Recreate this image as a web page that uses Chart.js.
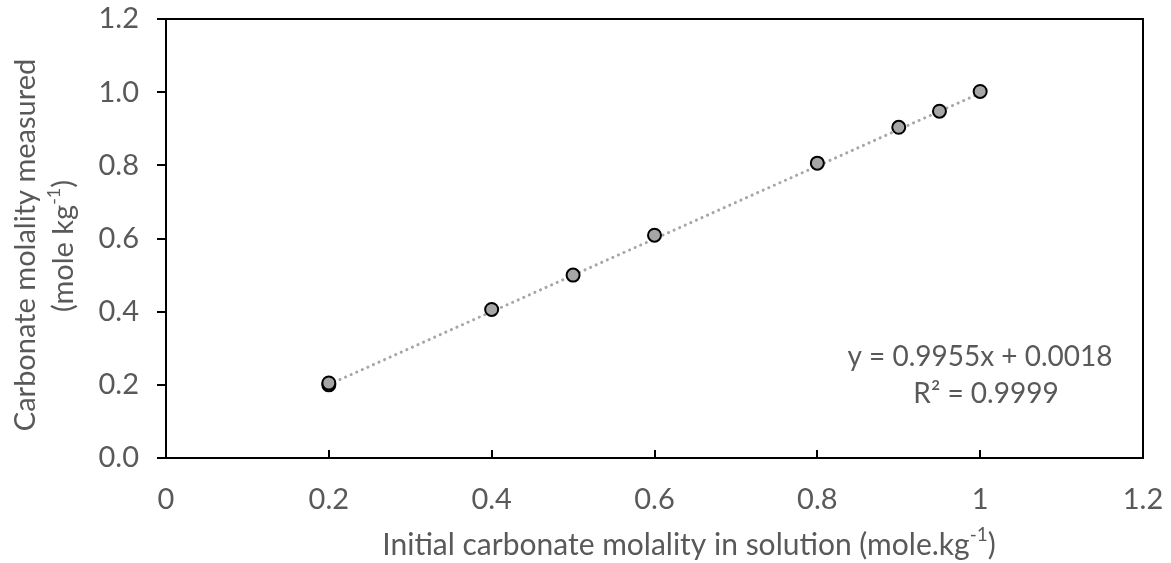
<!DOCTYPE html>
<html>
<head>
<meta charset="utf-8">
<script src="https://cdn.jsdelivr.net/npm/chart.js@4.4.1/dist/chart.umd.min.js"></script>
<style>
  html, body { margin: 0; padding: 0; background: #ffffff; }
  #wrap { width: 1171px; height: 563px; }
</style>
</head>
<body>
<div id="wrap"><canvas id="c" width="1171" height="563"></canvas></div>
<script>
// Initial carbonate molality (x) vs. measured molality (y)
const initialMolality  = [0.2, 0.2, 0.4, 0.5, 0.6, 0.8, 0.9, 0.95, 1.0];
const measuredMolality = [0.200, 0.205, 0.406, 0.500, 0.609, 0.806, 0.904, 0.948, 1.002];

// Linear fit reported on the chart
const fitSlope = 0.9955;
const fitIntercept = 0.0018;
const fitRange = [0.2, 1.0];
const fitLabel = 'y = 0.9955x + 0.0018';
const r2Label = 'R² = 0.9999';

// Axis ticks
const xTicks = [0, 0.2, 0.4, 0.6, 0.8, 1.0, 1.2];
const xTickLabels = ['0', '0.2', '0.4', '0.6', '0.8', '1', '1.2'];
const yTicks = [0, 0.2, 0.4, 0.6, 0.8, 1.0, 1.2];
const yTickLabels = ['0.0', '0.2', '0.4', '0.6', '0.8', '1.0', '1.2'];

const FONT = 'Lato, "Open Sans", "Liberation Sans", sans-serif';
const TEXT = '#595959';
const SIZE = 29;

const points = initialMolality.map((x, i) => ({ x, y: measuredMolality[i] }));
const fitLine = fitRange.map(x => ({ x, y: fitSlope * x + fitIntercept }));

// Draws text with a trailing superscript part
function drawSupText(ctx, parts, cx, cy, size) {
  const main = size + 'px ' + FONT;
  const sup = Math.round(size * 0.62) + 'px ' + FONT;
  let total = 0;
  const widths = parts.map(p => {
    ctx.font = p.sup ? sup : main;
    const w = ctx.measureText(p.t).width;
    total += w;
    return w;
  });
  let x = cx - total / 2;
  ctx.textAlign = 'left';
  ctx.textBaseline = 'middle';
  parts.forEach((p, i) => {
    ctx.font = p.sup ? sup : main;
    ctx.fillText(p.t, x, p.sup ? cy - size * 0.33 : cy);
    x += widths[i];
  });
}

const frame = {
  id: 'frame',
  afterDraw(chart) {
    const { ctx, chartArea: a, scales } = chart;
    ctx.save();
    // plot box
    ctx.strokeStyle = '#000';
    ctx.lineWidth = 2;
    ctx.strokeRect(a.left, a.top, a.right - a.left, a.bottom - a.top);
    // inward x ticks
    ctx.beginPath();
    xTicks.forEach(v => {
      const px = Math.round(scales.x.getPixelForValue(v));
      ctx.moveTo(px, a.bottom);
      ctx.lineTo(px, a.bottom - 8);
    });
    ctx.stroke();

    ctx.fillStyle = TEXT;
    // axis titles
    drawSupText(ctx, [{ t: 'Initial carbonate molality in solution (mole.kg' }, { t: '-1', sup: true }, { t: ')' }], 689, 545, 30);
    ctx.save();
    ctx.translate(26, 245);
    ctx.rotate(-Math.PI / 2);
    drawSupText(ctx, [{ t: 'Carbonate molality measured' }], 0, 0, SIZE);
    ctx.restore();
    ctx.save();
    ctx.translate(64, 246);
    ctx.rotate(-Math.PI / 2);
    drawSupText(ctx, [{ t: '(mole kg' }, { t: '-1', sup: true }, { t: ')' }], 0, 0, SIZE);
    ctx.restore();

    // fit equation
    ctx.font = '28px ' + FONT;
    ctx.textAlign = 'center';
    ctx.textBaseline = 'middle';
    ctx.fillText(fitLabel, 980, 357);
    ctx.fillText(r2Label, 986, 394);
    ctx.restore();
  }
};

new Chart(document.getElementById('c'), {
  type: 'scatter',
  data: {
    datasets: [
      {
        type: 'line',
        data: fitLine,
        borderColor: '#a6a6a6',
        borderWidth: 3,
        borderDash: [0.1, 6],
        borderCapStyle: 'round',
        pointRadius: 0,
        fill: false,
        order: 2
      },
      {
        data: points,
        pointRadius: 6.5,
        pointBackgroundColor: '#a6a6a6',
        pointBorderColor: '#000000',
        pointBorderWidth: 2,
        order: 1
      }
    ]
  },
  options: {
    responsive: false,
    animation: false,
    layout: { padding: { left: 0, top: 19, right: 28, bottom: 0 } },
    plugins: { legend: { display: false }, tooltip: { enabled: false } },
    scales: {
      x: {
        type: 'linear',
        min: 0,
        max: 1.2,
        afterFit(s) { s.height = 105; s.paddingLeft = 0; s.paddingRight = 0; },
        afterBuildTicks(s) { s.ticks = xTicks.map(v => ({ value: v })); },
        grid: { display: false },
        border: { display: true, color: '#000', width: 2 },
        ticks: {
          padding: 16,
          color: TEXT,
          font: { family: FONT, size: SIZE },
          callback: (v, i) => xTickLabels[i]
        }
      },
      y: {
        type: 'linear',
        min: 0,
        max: 1.2,
        afterFit(s) { s.width = 166; s.paddingTop = 0; s.paddingBottom = 0; },
        afterBuildTicks(s) { s.ticks = yTicks.map(v => ({ value: v })); },
        grid: { display: true, drawOnChartArea: false, drawTicks: true, tickLength: 9, color: '#000', lineWidth: 2 },
        border: { display: true, color: '#000', width: 2 },
        ticks: {
          padding: 18,
          color: TEXT,
          font: { family: FONT, size: SIZE },
          callback: (v, i) => yTickLabels[i]
        }
      }
    }
  },
  plugins: [frame]
});
</script>
</body>
</html>
